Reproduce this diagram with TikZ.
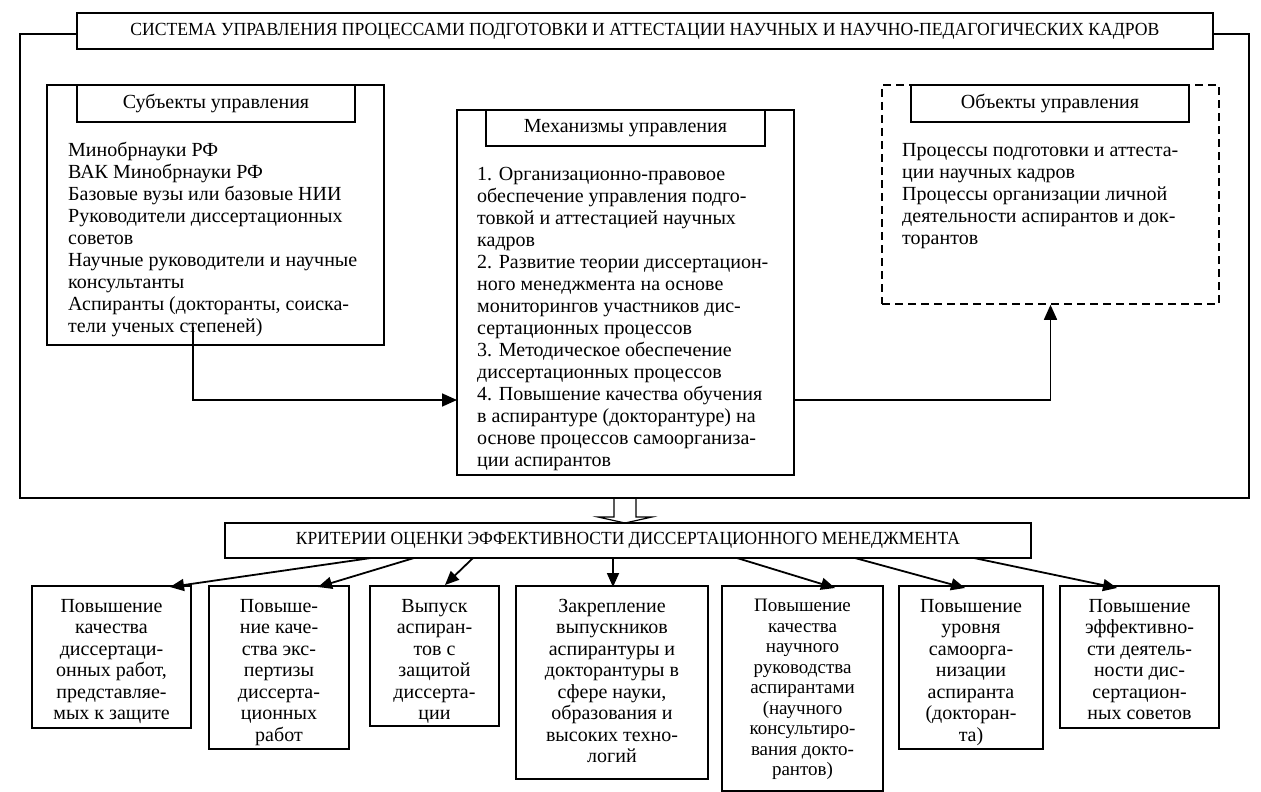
\documentclass[tikz,border=0pt]{standalone}
\usepackage{fontspec}
\setmainfont{Liberation Serif}
\usepackage{graphicx}
\usetikzlibrary{arrows.meta,calc}
\begin{document}
\begin{tikzpicture}[x=1pt,y=-1pt,
  box/.style={draw,line width=1.6pt,inner sep=0pt},
  dbox/.style={draw,line width=1.6pt,inner sep=0pt,dash pattern=on 8pt off 5pt},
  hdr/.style={box,font=\fontsize{20}{22}\selectfont},
  txt/.style={inner sep=0pt,align=left,font=\fontsize{20}{22}\selectfont},
  ctxt/.style={inner sep=0pt,align=center,font=\fontsize{20}{21.5}\selectfont,anchor=north},
  stxt/.style={inner sep=0pt,align=center,font=\fontsize{19}{20.5}\selectfont,anchor=north},
  frame/.style={line width=1.9pt},
  arr/.style={line width=1.7pt,-{Triangle[length=15pt,width=13pt]}},
  barr/.style={line width=1.8pt,-{Triangle[length=14pt,width=12pt]}}]
\useasboundingbox (0,0) rectangle (1261,792);
\fill[white] (0,0) rectangle (1261,792);

% title and frame
\node[box,line width=1.9pt,minimum width=1136pt,minimum height=36pt] (tt) at (645,31)
  {\fontsize{18.5}{18.5}\selectfont\resizebox{1029pt}{\height}{СИСТЕМА УПРАВЛЕНИЯ ПРОЦЕССАМИ ПОДГОТОВКИ И АТТЕСТАЦИИ НАУЧНЫХ И НАУЧНО-ПЕДАГОГИЧЕСКИХ КАДРОВ}};
\coordinate (fl) at (77,34);
\coordinate (fr) at (1213,34);
\coordinate (ftl) at (20,34);
\coordinate (fbl) at (20,498);
\coordinate (fbr) at (1249,498);
\coordinate (ftr) at (1249,34);
\draw[frame] (fl) -- (ftl) -- (fbl) -- (fbr) -- (ftr) -- (fr);

% subjects
\node[box,minimum width=337pt,minimum height=260pt] (S) at (215.5,215) {};
\node[hdr,minimum width=278pt,minimum height=37pt] (Sh) at (216,103.5) {Субъекты управления};
\node[txt,anchor=north west] (St) at (68,142) {Минобрнауки РФ\\ВАК Минобрнауки РФ\\Базовые вузы или базовые НИИ\\Руководители диссертационных\\советов\\Научные руководители и научные\\консультанты\\Аспиранты (докторанты, соиска-\\тели ученых степеней)};

% mechanisms
\node[box,minimum width=337pt,minimum height=365pt] (M) at (625.5,292.5) {};
\node[hdr,minimum width=279pt,minimum height=36pt] (Mh) at (625.5,128) {Механизмы управления};
\node[txt,anchor=north west] (Mt) at (477,167) {1. Организационно-правовое\\обеспечение управления подго-\\товкой и аттестацией научных\\кадров\\2. Развитие теории диссертацион-\\ного менеджмента на основе\\мониторингов участников дис-\\сертационных процессов\\3. Методическое обеспечение\\диссертационных процессов\\4. Повышение качества обучения\\в аспирантуре (докторантуре) на\\основе процессов самоорганиза-\\ции аспирантов};

% objects
\node[dbox,minimum width=337pt,minimum height=219pt] (O) at (1050.5,194.5) {};
\node[hdr,minimum width=278pt,minimum height=37pt] (Oh) at (1050,103.5) {Объекты управления};
\node[txt,anchor=north west] (Ot) at (902,143) {Процессы подготовки и аттеста-\\ции научных кадров\\Процессы организации личной\\деятельности аспирантов и док-\\торантов};

% arrows in the frame
\coordinate (s1) at (193,327);
\coordinate (m1) at (457,400);
\coordinate (m2) at (794,400);
\draw[arr] (s1) |- (m1);
\draw[arr] (m2) -| (O.south);

% hollow arrow
\coordinate (h1) at (614,499);
\coordinate (h2) at (636,499);
\draw[line width=1.2pt,fill=white,line join=miter] (h1) -- (614,517) -- (598,517) -- (625,523) -- (652,517) -- (636,517) -- (h2);

% criteria
\node[box,minimum width=806pt,minimum height=35pt] (K) at (628,540.5)
  {\fontsize{18.5}{18.5}\selectfont\resizebox{664pt}{\height}{КРИТЕРИИ ОЦЕНКИ ЭФФЕКТИВНОСТИ ДИССЕРТАЦИОННОГО МЕНЕДЖМЕНТА}};

% bottom boxes
\node[box,minimum width=159pt,minimum height=142pt,anchor=north] (b1) at (111.5,585) {};
\node[box,minimum width=140pt,minimum height=163pt,anchor=north] (b2) at (279,585) {};
\node[box,minimum width=129pt,minimum height=140pt,anchor=north] (b3) at (434.5,585) {};
\node[box,minimum width=192pt,minimum height=193pt,anchor=north] (b4) at (612,585) {};
\node[box,minimum width=161pt,minimum height=205pt,anchor=north] (b5) at (802.5,585) {};
\node[box,minimum width=144pt,minimum height=163pt,anchor=north] (b6) at (971,585) {};
\node[box,minimum width=159pt,minimum height=142pt,anchor=north] (b7) at (1139.5,585) {};

\node[ctxt] (t1) at ($(b1.north)+(0,14)$) {Повышение\\качества\\диссертаци-\\онных работ,\\представляе-\\мых к защите};
\node[ctxt] (t2) at ($(b2.north)+(0,14)$) {Повыше-\\ние каче-\\ства экс-\\пертизы\\диссерта-\\ционных\\работ};
\node[ctxt] (t3) at ($(b3.north)+(0,14)$) {Выпуск\\аспиран-\\тов с\\защитой\\диссерта-\\ции};
\node[ctxt] (t4) at ($(b4.north)+(0,14)$) {Закрепление\\выпускников\\аспирантуры и\\докторантуры в\\сфере науки,\\образования и\\высоких техно-\\логий};
\node[stxt] (t5) at ($(b5.north)+(0,14)$) {Повышение\\качества\\научного\\руководства\\аспирантами\\(научного\\консультиро-\\вания докто-\\рантов)};
\node[ctxt] (t6) at ($(b6.north)+(0,14)$) {Повышение\\уровня\\самоорга-\\низации\\аспиранта\\(докторан-\\та)};
\node[ctxt] (t7) at ($(b7.north)+(0,14)$) {Повышение\\эффективно-\\сти деятель-\\ности дис-\\сертацион-\\ных советов};

% criteria arrows
\coordinate (k1) at (371,558);
\coordinate (k2) at (414,558);
\coordinate (k3) at (473,558);
\coordinate (k4) at (613,558);
\coordinate (k5) at (737,558);
\coordinate (k6) at (855,558);
\coordinate (k7) at (974,558);
\coordinate (e1) at (170,587);
\coordinate (e2) at (318,587);
\coordinate (e3) at (445,585);
\coordinate (e4) at (613,587);
\coordinate (e5) at (835,588);
\coordinate (e6) at (965,588);
\coordinate (e7) at (1117,588);
\foreach \i in {1,...,7} {\draw[barr] (k\i) -- (e\i);}
\end{tikzpicture}
\end{document}
